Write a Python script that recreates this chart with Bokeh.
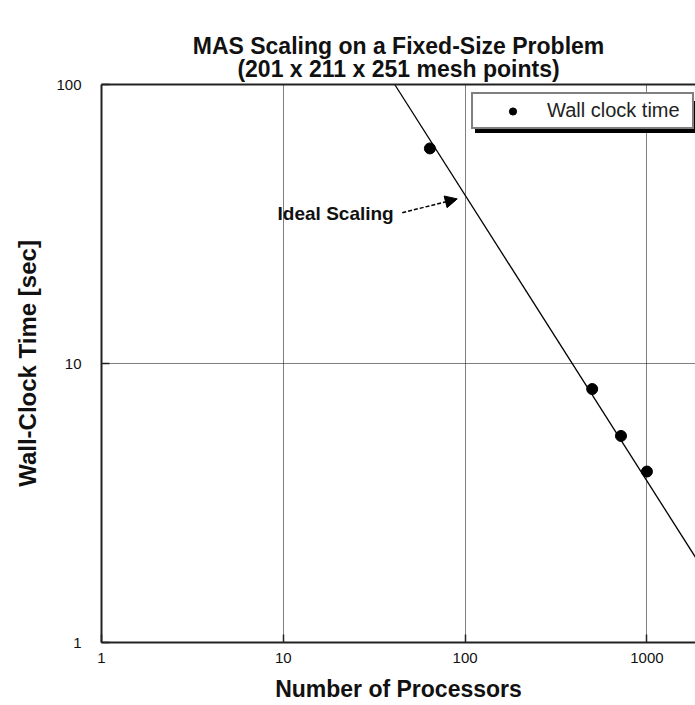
from bokeh.plotting import figure
from bokeh.models import (LogAxis, Legend, LegendItem, Label, Arrow,
                          NormalHead, FixedTicker, Title)
from bokeh.embed import file_html
from bokeh.resources import INLINE

# ---- data ----
processors = [64, 500, 720, 1000]
wall_time = [59.0, 8.1, 5.5, 4.1]

ideal_n = [41, 1850]
ideal_t = [100, 2.02]

x_ticks = [1, 10, 100, 1000]
y_ticks = [1, 10, 100]

title_line1 = "MAS Scaling on a Fixed-Size Problem"
title_line2 = "(201 x 211 x 251 mesh points)"
x_label = "Number of Processors"
y_label = "Wall-Clock Time [sec]"
legend_text = "Wall clock time"
ideal_text = "Ideal Scaling"

FONT = "Liberation Sans"
AXC = "#222222"

p = figure(width=695, height=705, x_axis_type="log", y_axis_type="log",
           x_range=(1, 1850), y_range=(1, 100),
           output_backend="svg", toolbar_location=None,
           min_border_left=101, min_border_right=0, min_border_top=84,
           min_border_bottom=63)
p.outline_line_color = None
p.background_fill_color = "white"
p.border_fill_color = "white"
p.title.visible = False

for ax in (p.xaxis[0], p.yaxis[0]):
    ax.axis_line_color = AXC
    ax.axis_line_width = 2
    ax.major_tick_in = 8
    ax.major_tick_out = 0
    ax.major_tick_line_color = AXC
    ax.major_tick_line_width = 1.5
    ax.minor_tick_line_color = None
    ax.major_label_text_font = FONT
    ax.major_label_text_font_size = "15px"
    ax.major_label_text_color = "#111111"
    ax.axis_label_text_font = FONT
    ax.axis_label_text_font_style = "bold"
    ax.axis_label_text_color = "#111111"

p.xaxis.axis_label_text_font_size = "23px"
p.yaxis.axis_label_text_font_size = "24px"
p.xaxis.ticker = FixedTicker(ticks=x_ticks)
p.yaxis.ticker = FixedTicker(ticks=y_ticks)
p.xaxis.major_label_overrides = {t: str(t) for t in x_ticks}
p.yaxis.major_label_overrides = {t: str(t) for t in y_ticks}
p.xaxis.axis_label = x_label
p.yaxis.axis_label = y_label
p.xaxis.major_label_standoff = 10
p.yaxis.major_label_standoff = 20
p.xaxis.axis_label_standoff = 10
p.yaxis.axis_label_standoff = 12

# top frame line
top = LogAxis(ticker=FixedTicker(ticks=[]), major_label_text_font_size="0px",
              axis_line_color=AXC, axis_line_width=2,
              major_tick_line_color=None, minor_tick_line_color=None)
p.add_layout(top, "above")

t2 = Title(text=title_line2, align="center", text_font=FONT,
           text_font_size="23px", text_font_style="bold",
           text_color="#111111", standoff=5, offset=-10)
t1 = Title(text=title_line1, align="center", text_font=FONT,
           text_font_size="23px", text_font_style="bold",
           text_color="#111111", standoff=-14, offset=-10)
p.add_layout(t2, "above")
p.add_layout(t1, "above")

for g in (p.xgrid[0], p.ygrid[0]):
    g.grid_line_color = "black"
    g.grid_line_dash = "1 1"
    g.grid_line_width = 1
    g.ticker = FixedTicker(ticks=[10, 100, 1000])

ideal = p.line(ideal_n, ideal_t, line_color="black", line_width=1.3)
pts = p.scatter(processors, wall_time, size=11, marker="circle",
                fill_color="black", line_color="black")

common = dict(orientation="vertical", border_line_width=2,
              label_text_font=FONT, label_text_font_size="20px",
              padding=5, glyph_width=69, glyph_height=18, label_height=18,
              label_width=140, label_standoff=0, spacing=0, margin=0)
shadow = Legend(items=[LegendItem(label=" ", renderers=[pts])],
                location=(374, 509), background_fill_color="black",
                background_fill_alpha=1, border_line_color="black",
                label_text_color="black", **common)
legend = Legend(items=[LegendItem(label=legend_text, renderers=[pts])],
                location=(370, 513), background_fill_color="white",
                background_fill_alpha=1, border_line_color="black",
                label_text_color="#222222", **common)
p.add_layout(shadow, "center")
p.add_layout(legend, "center")

lab = Label(x=9.3, y=34.5, text=ideal_text, text_font=FONT,
            text_font_size="19px", text_font_style="bold",
            text_color="#111111", text_baseline="middle", text_align="left")
p.add_layout(lab)

arr = Arrow(x_start=45.1, y_start=34.7, x_end=90.5, y_end=38.9,
            line_color="black", line_width=1.5, line_dash="4 2",
            end=NormalHead(size=12, fill_color="black", line_color="black"))
p.add_layout(arr)

open("out.html", "w").write(file_html(p, INLINE))
